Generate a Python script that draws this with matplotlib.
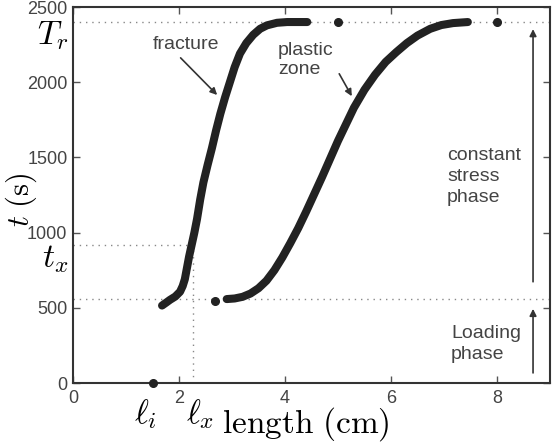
#!/usr/bin/env python
"""Fracture and plastic zone length against time under loading."""

import matplotlib

matplotlib.use("Agg")
import matplotlib.pyplot as plt

plt.rcParams["font.family"] = ["Liberation Sans", "DejaVu Sans"]
plt.rcParams["mathtext.fontset"] = "cm"

# fracture tip position (cm) against time (s)
FRACTURE_X = [1.68, 1.76, 1.83, 1.93, 2.02, 2.07, 2.11, 2.15, 2.19, 2.24,
              2.29, 2.34, 2.40, 2.46, 2.54, 2.62, 2.70, 2.78, 2.87, 2.96,
              3.05, 3.15, 3.27, 3.40, 3.53, 3.66, 3.85, 4.04, 4.42]
FRACTURE_T = [515, 535, 553, 575, 607, 645, 690, 765, 840, 920,
              1000, 1090, 1220, 1333, 1450, 1560, 1680, 1790, 1900, 2000,
              2100, 2190, 2260, 2315, 2355, 2378, 2395, 2400, 2400]

# plastic zone edge position (cm) against time (s)
PLASTIC_X = [2.90, 3.05, 3.20, 3.35, 3.50, 3.65, 3.80, 3.95, 4.10, 4.25,
             4.40, 4.55, 4.70, 4.85, 5.00, 5.15, 5.30, 5.50, 5.70, 5.90,
             6.10, 6.30, 6.50, 6.74, 6.95, 7.17, 7.45]
PLASTIC_T = [558, 562, 573, 595, 630, 680, 750, 835, 930, 1030,
             1140, 1255, 1370, 1490, 1610, 1720, 1830, 1950, 2050, 2135,
             2200, 2260, 2310, 2355, 2380, 2393, 2400]

# isolated points
DOTS_X = [1.5, 2.68, 5.0, 8.0]
DOTS_T = [0, 545, 2400, 2400]

T_RUPTURE = 2400
T_X = 920
T_LOAD = 560
L_X = 2.26

X_TICKS = [0, 2, 4, 6, 8]
Y_TICKS = [0, 500, 1000, 1500, 2000, 2500]

INK = "#222222"
GREY = "#444444"

fig = plt.figure(figsize=(5.55, 4.43), dpi=100)
ax = fig.add_axes([73 / 555, 60 / 443, 477 / 555, 376 / 443])

dot_style = dict(color="#888888", linestyle=(0, (1, 3.5)), linewidth=1.0)
ax.plot([0, 9], [T_RUPTURE, T_RUPTURE], **dot_style)
ax.plot([0, 9], [T_LOAD, T_LOAD], **dot_style)
ax.plot([0, 2.15], [T_X, T_X], **dot_style)
ax.plot([L_X, L_X], [0, T_X], **dot_style)

ax.plot(FRACTURE_X, FRACTURE_T, color=INK, linewidth=5.8,
        solid_capstyle="round", solid_joinstyle="round")
ax.plot(PLASTIC_X, PLASTIC_T, color=INK, linewidth=5.8,
        solid_capstyle="round", solid_joinstyle="round")
ax.plot(DOTS_X, DOTS_T, "o", color=INK, markersize=5.5, clip_on=False, zorder=5)

ax.set_xlim(0, 9)
ax.set_ylim(0, 2500)
ax.set_xticks(X_TICKS)
ax.set_yticks(Y_TICKS)
ax.tick_params(direction="in", length=5, width=1, top=True, right=True,
               labelsize=13, labelcolor=GREY, colors="#555555")
ax.tick_params(axis="x", pad=5)
ax.tick_params(axis="y", pad=4)
for spine in ax.spines.values():
    spine.set_linewidth(1.5)
    spine.set_color("#333333")

# annotations
arrow = dict(arrowstyle="-|>", color="#333333", lw=1.2, mutation_scale=10)
ax.annotate("fracture", xy=(2.72, 1915), xytext=(2.13, 2250), fontsize=14,
            color=GREY, ha="center", va="center",
            arrowprops=dict(arrow, shrinkA=2, shrinkB=0, relpos=(0.35, 0.0)))
ax.annotate("plastic\nzone", xy=(5.26, 1907), xytext=(3.87, 2145), fontsize=14,
            color=GREY, ha="left", va="center", linespacing=1.15,
            arrowprops=dict(arrow, shrinkA=4, shrinkB=0,
                            relpos=(1.0, 0.4)))
ax.text(7.06, 1375, "constant\nstress\nphase", fontsize=14, color=GREY,
        ha="left", va="center", linespacing=1.3)
ax.text(7.13, 260, "Loading\nphase", fontsize=14, color=GREY,
        ha="left", va="center", linespacing=1.3)
ax.annotate("", xy=(8.68, 2353), xytext=(8.68, 673),
            arrowprops=dict(arrow, shrinkA=0, shrinkB=0))
ax.annotate("", xy=(8.68, 493), xytext=(8.68, 67),
            arrowprops=dict(arrow, shrinkA=0, shrinkB=0))

# math labels outside the axes
ax.text(-0.09, T_RUPTURE + 20, r"$T_r$", fontsize=24, ha="right", va="top")
ax.text(-0.09, T_X + 10, r"$t_x$", fontsize=24, ha="right", va="top")
fig.text(145 / 555, 1 - 423 / 443, r"$\ell_i$", fontsize=24, ha="center",
         va="baseline")
fig.text(200 / 555, 1 - 423 / 443, r"$\ell_x$", fontsize=24, ha="center",
         va="baseline")
fig.text(306 / 555, 1 - 433 / 443, r"$\mathrm{length\ (cm)}$", fontsize=24,
         ha="center", va="baseline")
fig.text(4 / 555, 1 - 200 / 443, r"$t\ \mathrm{(s)}$", fontsize=22,
         ha="left", va="center", rotation=90)

fig.savefig("out.png", dpi=100)
